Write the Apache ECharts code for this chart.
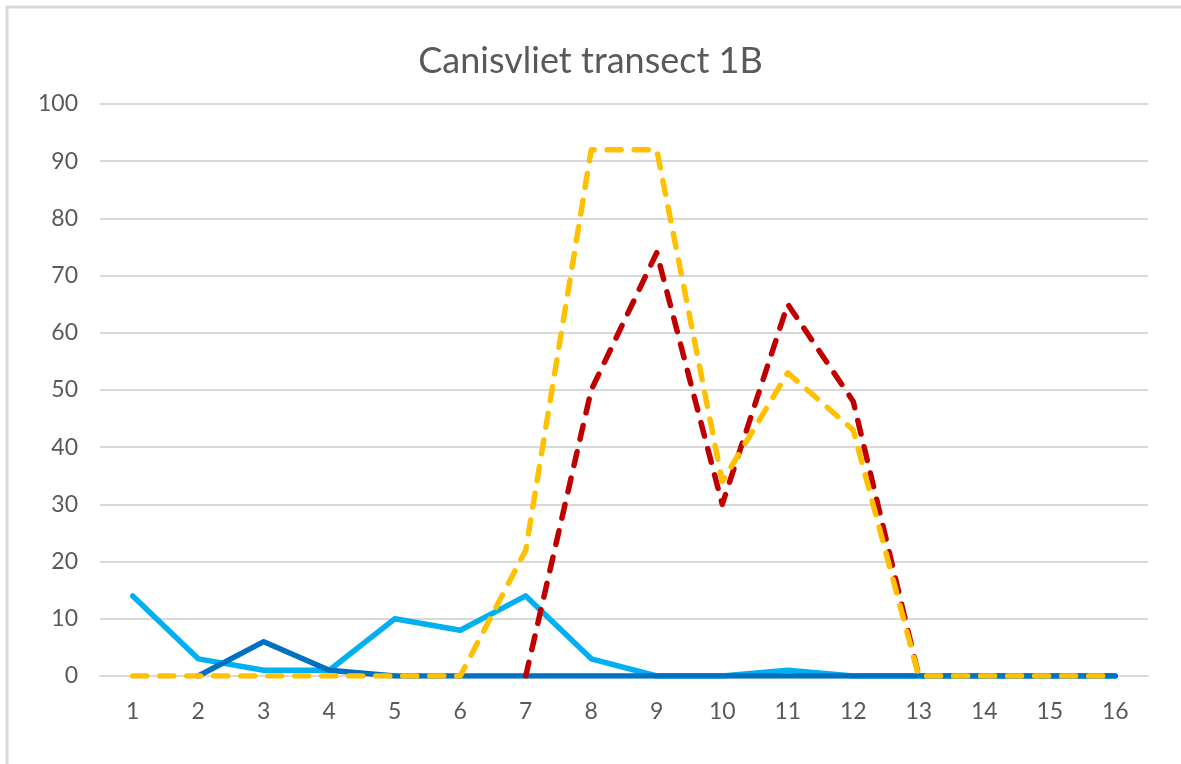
<!DOCTYPE html>
<html>
<head>
<meta charset="utf-8">
<script src="https://cdn.jsdelivr.net/npm/echarts@6/dist/echarts.min.js"></script>
<style>
  html, body { margin: 0; padding: 0; background: #fff; }
  #chart { width: 1181px; height: 764px; }
</style>
</head>
<body>
<div id="chart"></div>
<script>
// category labels along x
let categories = ["1", "2", "3", "4", "5", "6", "7", "8", "9", "10", "11", "12", "13", "14", "15", "16"];

// series values
let lightBlue = [14, 3, 1, 1, 10, 8, 14, 3, 0, 0, 1, 0, 0, 0, 0, 0];
let darkBlue = [null, 0, 6, 1, 0, 0, 0, 0, 0, 0, 0, 0, 0, 0, 0, 0];
let redDashed = [null, null, null, null, null, null, 0, 50, 74, 30, 65, 48, 0, null, null, null];
let yellowDashed = [0, 0, 0, 0, 0, 0, 22, 92, 92, 34, 53, 43, 0, 0, 0, 0];

let textColor = "#595959";
let font = "Lato, 'Open Sans', sans-serif";

let chart = echarts.init(document.getElementById("chart"));

function solid(name, data, color) {
  return {
    name: name,
    type: "line",
    data: data,
    symbol: "none",
    animation: false,
    lineStyle: { color: color, width: 5.5, cap: "round", join: "round" }
  };
}

function dashed(name, data, color) {
  return {
    name: name,
    type: "line",
    data: data,
    symbol: "none",
    animation: false,
    lineStyle: { color: color, width: 5.5, type: [14, 13], cap: "round", join: "round" }
  };
}

chart.setOption({
  backgroundColor: "#fff",
  title: {
    text: "Canisvliet transect 1B",
    left: "center",
    top: 38,
    textStyle: { color: textColor, fontSize: 36, fontWeight: "normal", fontFamily: font }
  },
  graphic: [{
    type: "polyline",
    shape: { points: [[7, 764], [7, 7], [1181, 7]] },
    style: { stroke: "#d9d9d9", lineWidth: 3, fill: null }
  }],
  grid: { left: 100, right: 33, top: 104, bottom: 88, containLabel: false },
  xAxis: {
    type: "category",
    data: categories,
    boundaryGap: true,
    axisLine: { show: true, lineStyle: { color: "#d9d9d9", width: 2 } },
    axisTick: { show: false },
    axisLabel: { color: textColor, fontSize: 23, fontFamily: font, margin: 24 }
  },
  yAxis: {
    type: "value",
    min: 0,
    max: 100,
    interval: 10,
    axisLine: { show: false },
    axisTick: { show: false },
    splitLine: { lineStyle: { color: "#d9d9d9", width: 2 } },
    axisLabel: { color: textColor, fontSize: 23, fontFamily: font, margin: 22 }
  },
  series: [
    solid("light blue", lightBlue, "#00B0F0"),
    solid("dark blue", darkBlue, "#0070C0"),
    dashed("red", redDashed, "#C00000"),
    dashed("yellow", yellowDashed, "#FFC000")
  ]
});
</script>
</body>
</html>
